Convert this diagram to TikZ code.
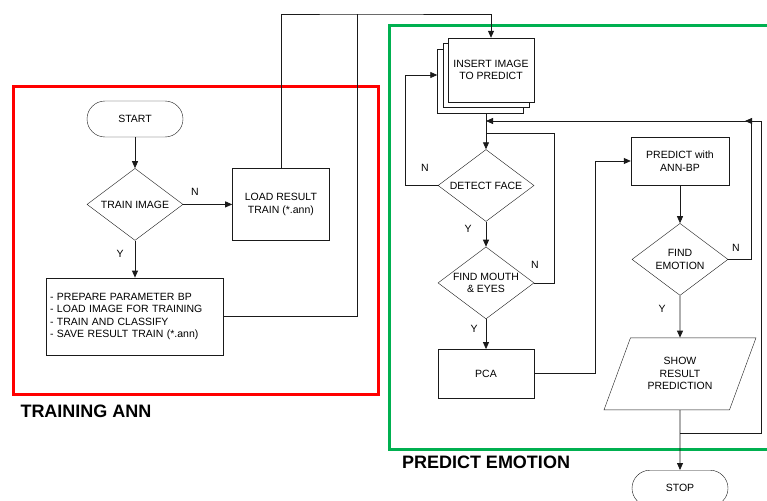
\documentclass[tikz,border=0pt]{standalone}
\usepackage{fontspec}
\setmainfont{Liberation Sans}
\usepackage{tikz}
\usetikzlibrary{arrows.meta,positioning,shapes.geometric}
\definecolor{framered}{HTML}{FF0000}
\definecolor{framegreen}{HTML}{00B050}
\definecolor{inkline}{HTML}{1A1A1A}
\newcommand{\flowfont}{\fontsize{10.5}{12.5}\selectfont}
\tikzset{
  termnode/.style={
    rectangle, rounded corners=18pt, draw=inkline, fill=white,
    minimum width=96pt, minimum height=36pt, font=\flowfont
  },
  decnode/.style={
    diamond, aspect=1.33, draw=inkline, fill=white, inner sep=0pt,
    minimum width=96pt, minimum height=72pt, align=center, font=\flowfont
  },
  procnode/.style={
    rectangle, draw=inkline, fill=white, align=center, font=\flowfont
  },
  docnode/.style={
    rectangle, draw=inkline, fill=white, minimum width=86pt,
    minimum height=64pt, align=center, font=\flowfont
  },
  ionode/.style={
    trapezium, trapezium left angle=64, trapezium right angle=116,
    trapezium stretches=true, draw=inkline, fill=white,
    minimum width=152pt, minimum height=72pt, align=center, font=\flowfont
  },
  flowarrow/.style={-{Triangle[length=7pt,width=6pt]}, line width=0.8pt, color=inkline},
  flowline/.style={line width=0.8pt, color=inkline},
  framebox/.style={line width=3pt},
  flowlabel/.style={font=\flowfont, inner sep=0pt},
  grouplabel/.style={font=\fontsize{18}{20}\selectfont\bfseries, inner sep=0pt},
}

\begin{document}
\begin{tikzpicture}[x=1pt, y=-1pt]
  \useasboundingbox (0,0) rectangle (767,500);
  \draw[framebox, framered] (13,87) rectangle (378,394);
  \draw[framebox, framegreen] (389,26) rectangle (800,449);
  \node[grouplabel] (trainlbl) at (86,411) {TRAINING ANN};
  \node[grouplabel] (predlbl) at (486,462) {PREDICT EMOTION};

  \node[termnode] (start) at (135,119) {START};
  \node[decnode, below=31pt of start] (train) {TRAIN IMAGE};
  \node[procnode, right=49pt of train, minimum width=97pt, minimum height=72pt] (load) {LOAD RESULT\\TRAIN (*.ann)};
  \node[procnode, below=37pt of train, text width=170pt, minimum height=77pt, align=left] (prep) {- PREPARE PARAMETER BP\\- LOAD IMAGE FOR TRAINING\\- TRAIN AND CLASSIFY\\- SAVE RESULT TRAIN (*.ann)};

  \node[docnode] (insert3) at (480.5,81) {};
  \node[docnode] (insert2) at (485.75,75.5) {};
  \node[docnode] (insert) at (491,70) {INSERT IMAGE\\TO PREDICT};
  \node[decnode] (detect) at (486,185.5) {DETECT FACE};
  \node[decnode, below=25pt of detect] (mouth) {FIND MOUTH\\\& EYES};
  \node[procnode, below=30pt of mouth, minimum width=96pt, minimum height=49pt] (pca) {PCA};
  \node[procnode, minimum width=98pt, minimum height=48pt] (predict) at (680,161) {PREDICT with\\ANN-BP};
  \node[decnode, below=38pt of predict] (emo) {FIND\\EMOTION};
  \node[ionode, below=42pt of emo] (show) {SHOW\\RESULT\\PREDICTION};
  \node[termnode, below=60pt of show] (stop) {STOP};

  \coordinate (topline) at (357,14);
  \coordinate (mj) at (486,133);
  \coordinate (ej) at (486,121);
  \coordinate (sj) at (680,433);
  \coordinate (oc) at (761,121);
  \coordinate (ot) at (745,121);

  \foreach \a/\b in {start/train,train/load,train/prep,detect/mouth,mouth/pca,predict/emo,emo/show,show/stop}
    \draw[flowarrow] (\a) -- (\b);
  \draw[flowarrow] (detect.north |- insert3.south) -- (detect.north);
  \draw[flowarrow] (load.north) |- (topline) -| (insert.north);
  \draw[flowline] (prep.east) -| (topline);
  \draw[flowarrow] (detect.west) -- ++(-32,0) |- ([yshift=6pt]insert3.west);
  \draw[flowline] (mouth.east) -- ++(20,0) |- (mj);
  \draw[flowarrow] (pca.east) -- ++(61,0) |- (predict.west);
  \draw[flowarrow] (emo.east) -- ++(23,0) |- (ej);
  \draw[flowarrow] (sj) -| (oc) -- (ot);

  \node[flowlabel] (ntrain) at (195,192) {N};
  \node[flowlabel] (ytrain) at (120,254) {Y};
  \node[flowlabel] (ndetect) at (425,168) {N};
  \node[flowlabel] (ydetect) at (468,229) {Y};
  \node[flowlabel] (nmouth) at (535,265) {N};
  \node[flowlabel] (ymouth) at (474,329) {Y};
  \node[flowlabel] (nemo) at (736,248) {N};
  \node[flowlabel] (yemo) at (662,309) {Y};
\end{tikzpicture}
\end{document}
